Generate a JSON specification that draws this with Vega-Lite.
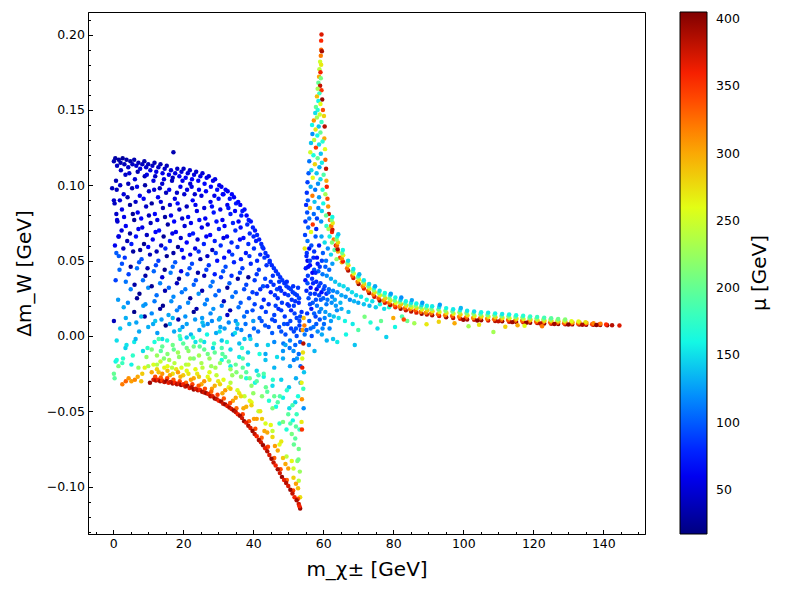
{
"$schema": "https://vega.github.io/schema/vega-lite/v6.json",
"autosize": {"type": "none"},
"padding": {"left": 88, "top": 12, "right": 155, "bottom": 66},
"width": 557,
"height": 522,
"data": {"values": [
{"m":0.2,"dm":0.116,"mu":38},{"m":0.6,"dm":0.118,"mu":32},{"m":1.1,"dm":0.113,"mu":44},{"m":1.6,"dm":0.117,"mu":30},{"m":2.1,"dm":0.115,"mu":36},{"m":2.7,"dm":0.118,"mu":28},{"m":3.2,"dm":0.114,"mu":40},{"m":3.8,"dm":0.117,"mu":34},{"m":4.3,"dm":0.112,"mu":46},{"m":4.9,"dm":0.116,"mu":33},{"m":5.5,"dm":0.114,"mu":42},{"m":6.0,"dm":0.117,"mu":36},{"m":6.6,"dm":0.113,"mu":48},{"m":7.2,"dm":0.115,"mu":39},{"m":7.7,"dm":0.111,"mu":52},{"m":8.3,"dm":0.114,"mu":41},{"m":8.9,"dm":0.116,"mu":35},{"m":9.4,"dm":0.112,"mu":47},{"m":10.0,"dm":0.114,"mu":40},{"m":10.6,"dm":0.110,"mu":54},{"m":11.2,"dm":0.113,"mu":43},{"m":11.8,"dm":0.115,"mu":37},{"m":12.3,"dm":0.109,"mu":56},{"m":12.9,"dm":0.112,"mu":45},{"m":13.5,"dm":0.114,"mu":38},{"m":14.1,"dm":0.108,"mu":58},{"m":14.7,"dm":0.111,"mu":47},{"m":15.3,"dm":0.113,"mu":40},{"m":15.9,"dm":0.107,"mu":60},{"m":16.5,"dm":0.110,"mu":49},{"m":17.2,"dm":0.122,"mu":36},{"m":17.7,"dm":0.108,"mu":55},{"m":18.3,"dm":0.111,"mu":44},{"m":18.9,"dm":0.106,"mu":61},{"m":19.5,"dm":0.109,"mu":50},{"m":20.1,"dm":0.111,"mu":42},{"m":20.7,"dm":0.105,"mu":63},{"m":21.3,"dm":0.108,"mu":52},{"m":21.9,"dm":0.110,"mu":46},{"m":22.5,"dm":0.104,"mu":64},{"m":23.1,"dm":0.107,"mu":54},{"m":23.7,"dm":0.109,"mu":48},{"m":24.3,"dm":0.103,"mu":66},{"m":24.9,"dm":0.106,"mu":56},{"m":25.5,"dm":0.108,"mu":50},{"m":26.1,"dm":0.101,"mu":67},{"m":26.7,"dm":0.105,"mu":58},{"m":27.3,"dm":0.106,"mu":52},{"m":27.9,"dm":0.099,"mu":68},{"m":28.5,"dm":0.103,"mu":60},{"m":29.1,"dm":0.104,"mu":55},{"m":29.7,"dm":0.097,"mu":70},{"m":30.3,"dm":0.100,"mu":62},{"m":30.9,"dm":0.099,"mu":57},{"m":31.5,"dm":0.094,"mu":71},{"m":32.1,"dm":0.097,"mu":64},{"m":32.7,"dm":0.096,"mu":60},{"m":33.3,"dm":0.091,"mu":72},{"m":33.9,"dm":0.094,"mu":66},{"m":34.5,"dm":0.092,"mu":62},{"m":35.1,"dm":0.088,"mu":74},{"m":35.7,"dm":0.089,"mu":68},{"m":36.3,"dm":0.087,"mu":64},{"m":36.9,"dm":0.083,"mu":75},{"m":37.5,"dm":0.084,"mu":70},{"m":38.1,"dm":0.080,"mu":66},{"m":38.7,"dm":0.077,"mu":76},{"m":39.3,"dm":0.076,"mu":72},{"m":39.9,"dm":0.072,"mu":78},{"m":40.5,"dm":0.070,"mu":74},{"m":41.1,"dm":0.067,"mu":80},{"m":41.7,"dm":0.064,"mu":76},{"m":42.3,"dm":0.061,"mu":81},{"m":42.9,"dm":0.058,"mu":78},{"m":43.5,"dm":0.055,"mu":83},{"m":44.1,"dm":0.053,"mu":79},{"m":44.7,"dm":0.050,"mu":84},{"m":45.3,"dm":0.047,"mu":81},{"m":45.9,"dm":0.045,"mu":85},{"m":46.5,"dm":0.043,"mu":82},{"m":47.1,"dm":0.041,"mu":86},{"m":47.7,"dm":0.039,"mu":83},{"m":48.3,"dm":0.037,"mu":87},{"m":48.9,"dm":0.035,"mu":84},{"m":49.5,"dm":0.033,"mu":88},{"m":50.1,"dm":0.032,"mu":85},{"m":50.7,"dm":0.031,"mu":89},{"m":51.3,"dm":0.029,"mu":86},{"m":51.9,"dm":0.028,"mu":90},{"m":52.5,"dm":0.027,"mu":87},{"m":53.1,"dm":0.025,"mu":91},
{"m":3.5,"dm":0.107,"mu":45},{"m":6.2,"dm":0.104,"mu":50},{"m":9.0,"dm":0.106,"mu":38},{"m":11.5,"dm":0.103,"mu":55},{"m":14.0,"dm":0.101,"mu":48},{"m":16.8,"dm":0.103,"mu":42},{"m":19.2,"dm":0.099,"mu":58},{"m":22.0,"dm":0.101,"mu":50},{"m":24.5,"dm":0.097,"mu":62},
{"m":-0.3,"dm":0.098,"mu":40},{"m":0.2,"dm":0.090,"mu":45},{"m":1.1,"dm":0.077,"mu":50},{"m":1.6,"dm":0.066,"mu":48},{"m":1.6,"dm":0.053,"mu":100},{"m":0.7,"dm":0.037,"mu":90},
{"m":1.0,"dm":0.097,"mu":40},{"m":3.0,"dm":0.094,"mu":52},{"m":5.4,"dm":0.098,"mu":35},{"m":7.6,"dm":0.093,"mu":58},{"m":10.2,"dm":0.096,"mu":45},{"m":12.8,"dm":0.092,"mu":62},{"m":15.1,"dm":0.095,"mu":40},{"m":17.6,"dm":0.091,"mu":55},{"m":20.3,"dm":0.094,"mu":48},{"m":22.7,"dm":0.090,"mu":65},{"m":25.2,"dm":0.093,"mu":52},{"m":27.8,"dm":0.089,"mu":60},{"m":30.1,"dm":0.091,"mu":70},{"m":32.6,"dm":0.087,"mu":58},
{"m":0.4,"dm":0.088,"mu":42},{"m":2.5,"dm":0.084,"mu":55},{"m":4.8,"dm":0.087,"mu":30},{"m":7.0,"dm":0.082,"mu":60},{"m":9.4,"dm":0.086,"mu":44},{"m":11.9,"dm":0.081,"mu":65},{"m":14.2,"dm":0.085,"mu":38},{"m":16.5,"dm":0.080,"mu":58},{"m":18.9,"dm":0.084,"mu":46},{"m":21.4,"dm":0.079,"mu":68},{"m":23.9,"dm":0.083,"mu":55},{"m":26.3,"dm":0.078,"mu":62},{"m":28.7,"dm":0.082,"mu":72},{"m":31.2,"dm":0.077,"mu":60},{"m":33.5,"dm":0.081,"mu":75},{"m":35.8,"dm":0.076,"mu":66},
{"m":1.2,"dm":0.076,"mu":48},{"m":3.6,"dm":0.073,"mu":62},{"m":6.0,"dm":0.077,"mu":28},{"m":8.3,"dm":0.072,"mu":56},{"m":10.7,"dm":0.075,"mu":40},{"m":13.1,"dm":0.070,"mu":70},{"m":15.6,"dm":0.074,"mu":32},{"m":17.9,"dm":0.069,"mu":62},{"m":20.4,"dm":0.073,"mu":50},{"m":22.8,"dm":0.068,"mu":74},{"m":25.3,"dm":0.072,"mu":58},{"m":27.7,"dm":0.067,"mu":66},{"m":30.2,"dm":0.071,"mu":78},{"m":32.5,"dm":0.066,"mu":62},{"m":34.9,"dm":0.070,"mu":80},{"m":37.2,"dm":0.065,"mu":70},{"m":39.0,"dm":0.068,"mu":82},
{"m":1.5,"dm":0.066,"mu":55},{"m":4.0,"dm":0.063,"mu":35},{"m":6.5,"dm":0.066,"mu":70},{"m":8.8,"dm":0.061,"mu":25},{"m":11.3,"dm":0.064,"mu":60},{"m":13.7,"dm":0.060,"mu":45},{"m":16.2,"dm":0.063,"mu":75},{"m":18.5,"dm":0.059,"mu":28},{"m":21.0,"dm":0.062,"mu":66},{"m":23.4,"dm":0.058,"mu":55},{"m":25.9,"dm":0.061,"mu":78},{"m":28.3,"dm":0.057,"mu":40},{"m":30.7,"dm":0.060,"mu":82},{"m":33.1,"dm":0.056,"mu":68},{"m":35.5,"dm":0.059,"mu":85},{"m":37.9,"dm":0.055,"mu":74},{"m":40.2,"dm":0.058,"mu":84},{"m":42.0,"dm":0.054,"mu":80},
{"m":0.9,"dm":0.055,"mu":100},{"m":3.3,"dm":0.052,"mu":85},{"m":5.7,"dm":0.056,"mu":30},{"m":8.1,"dm":0.051,"mu":95},{"m":10.5,"dm":0.054,"mu":42},{"m":12.9,"dm":0.050,"mu":88},{"m":15.3,"dm":0.053,"mu":26},{"m":17.7,"dm":0.049,"mu":98},{"m":20.1,"dm":0.052,"mu":60},{"m":22.5,"dm":0.048,"mu":92},{"m":24.9,"dm":0.051,"mu":35},{"m":27.3,"dm":0.047,"mu":86},{"m":29.7,"dm":0.050,"mu":70},{"m":32.1,"dm":0.046,"mu":94},{"m":34.5,"dm":0.049,"mu":78},{"m":36.9,"dm":0.045,"mu":88},{"m":39.3,"dm":0.048,"mu":80},{"m":41.6,"dm":0.044,"mu":86},{"m":43.8,"dm":0.047,"mu":84},
{"m":1.8,"dm":0.044,"mu":105},{"m":4.4,"dm":0.041,"mu":90},{"m":6.8,"dm":0.045,"mu":110},{"m":9.2,"dm":0.040,"mu":32},{"m":11.6,"dm":0.043,"mu":104},{"m":14.0,"dm":0.039,"mu":50},{"m":16.4,"dm":0.042,"mu":112},{"m":18.8,"dm":0.038,"mu":28},{"m":21.2,"dm":0.041,"mu":100},{"m":23.6,"dm":0.037,"mu":95},{"m":26.0,"dm":0.040,"mu":40},{"m":28.4,"dm":0.036,"mu":108},{"m":30.8,"dm":0.039,"mu":85},{"m":33.2,"dm":0.035,"mu":100},{"m":35.6,"dm":0.038,"mu":30},{"m":38.0,"dm":0.034,"mu":92},{"m":40.4,"dm":0.037,"mu":88},{"m":42.8,"dm":0.033,"mu":95},{"m":45.0,"dm":0.036,"mu":86},{"m":46.8,"dm":0.031,"mu":90},
{"m":5.0,"dm":0.031,"mu":115},{"m":7.5,"dm":0.028,"mu":25},{"m":10.0,"dm":0.032,"mu":120},{"m":12.4,"dm":0.027,"mu":108},{"m":14.8,"dm":0.030,"mu":35},{"m":17.2,"dm":0.026,"mu":118},{"m":19.6,"dm":0.029,"mu":110},{"m":22.0,"dm":0.025,"mu":30},{"m":24.4,"dm":0.028,"mu":122},{"m":26.8,"dm":0.024,"mu":112},{"m":29.2,"dm":0.027,"mu":105},{"m":31.6,"dm":0.023,"mu":40},{"m":34.0,"dm":0.026,"mu":110},{"m":36.4,"dm":0.022,"mu":100},{"m":38.8,"dm":0.025,"mu":92},{"m":41.0,"dm":0.028,"mu":85},{"m":43.0,"dm":0.024,"mu":80},{"m":45.0,"dm":0.029,"mu":75},{"m":47.0,"dm":0.025,"mu":82},{"m":49.0,"dm":0.028,"mu":78},{"m":51.0,"dm":0.024,"mu":85},{"m":53.0,"dm":0.022,"mu":80},
{"m":3.0,"dm":0.019,"mu":130},{"m":6.0,"dm":0.016,"mu":22},{"m":8.6,"dm":0.020,"mu":125},{"m":11.0,"dm":0.015,"mu":118},{"m":13.4,"dm":0.018,"mu":30},{"m":15.8,"dm":0.014,"mu":128},{"m":18.2,"dm":0.017,"mu":115},{"m":20.6,"dm":0.013,"mu":122},{"m":23.0,"dm":0.016,"mu":26},{"m":25.4,"dm":0.012,"mu":125},{"m":27.8,"dm":0.015,"mu":118},{"m":30.2,"dm":0.011,"mu":128},{"m":32.6,"dm":0.014,"mu":45},{"m":35.0,"dm":0.010,"mu":120},{"m":37.4,"dm":0.013,"mu":108},{"m":39.8,"dm":0.017,"mu":95},{"m":41.8,"dm":0.012,"mu":100},{"m":43.6,"dm":0.016,"mu":88},{"m":45.4,"dm":0.011,"mu":92},{"m":47.2,"dm":0.018,"mu":80},{"m":49.0,"dm":0.013,"mu":86},{"m":50.8,"dm":0.017,"mu":78},{"m":52.4,"dm":0.012,"mu":90},{"m":53.8,"dm":0.016,"mu":84},
{"m":0.2,"dm":0.010,"mu":40},{"m":2.0,"dm":0.005,"mu":140},{"m":4.6,"dm":0.008,"mu":135},{"m":7.4,"dm":0.003,"mu":130},{"m":10.0,"dm":0.006,"mu":132},{"m":12.6,"dm":0.002,"mu":125},{"m":15.0,"dm":0.007,"mu":20},{"m":17.4,"dm":0.003,"mu":130},{"m":19.8,"dm":0.006,"mu":122},{"m":22.2,"dm":0.001,"mu":135},{"m":24.6,"dm":0.004,"mu":128},{"m":27.0,"dm":0.008,"mu":120},{"m":29.4,"dm":0.002,"mu":130},{"m":31.8,"dm":0.005,"mu":125},{"m":34.2,"dm":0.001,"mu":118},{"m":36.6,"dm":0.004,"mu":115},{"m":39.0,"dm":0.000,"mu":112},{"m":41.4,"dm":0.003,"mu":105},{"m":43.4,"dm":0.007,"mu":98},{"m":45.4,"dm":0.002,"mu":100},{"m":47.4,"dm":0.006,"mu":92},{"m":49.2,"dm":0.001,"mu":95},{"m":50.8,"dm":0.005,"mu":88},{"m":52.4,"dm":0.000,"mu":94},{"m":53.6,"dm":0.004,"mu":90},
{"m":45.8,"dm":0.034,"mu":84},{"m":46.4,"dm":0.020,"mu":90},{"m":47.6,"dm":0.032,"mu":80},{"m":48.2,"dm":0.022,"mu":88},{"m":48.8,"dm":0.008,"mu":96},{"m":49.6,"dm":0.036,"mu":82},{"m":50.2,"dm":0.020,"mu":86},{"m":50.6,"dm":0.010,"mu":92},{"m":51.4,"dm":0.033,"mu":84},{"m":51.8,"dm":0.015,"mu":90},{"m":52.2,"dm":0.005,"mu":96},{"m":52.8,"dm":0.032,"mu":86},{"m":53.2,"dm":0.010,"mu":92},{"m":53.4,"dm":-0.004,"mu":100},{"m":52.0,"dm":-0.006,"mu":104},{"m":50.4,"dm":-0.008,"mu":108},{"m":48.6,"dm":-0.005,"mu":110},{"m":53.0,"dm":-0.012,"mu":106},{"m":51.6,"dm":-0.016,"mu":112},{"m":53.5,"dm":-0.020,"mu":104},
{"m":2.2,"dm":0.110,"mu":42},{"m":4.6,"dm":0.108,"mu":50},{"m":7.0,"dm":0.109,"mu":36},{"m":9.6,"dm":0.107,"mu":55},{"m":12.0,"dm":0.106,"mu":45},{"m":14.5,"dm":0.104,"mu":52},{"m":17.0,"dm":0.105,"mu":40},{"m":19.8,"dm":0.103,"mu":60},{"m":22.4,"dm":0.099,"mu":55},
{"m":0.8,"dm":0.103,"mu":38},{"m":2.0,"dm":0.100,"mu":46},{"m":4.3,"dm":0.101,"mu":40},{"m":6.8,"dm":0.099,"mu":58},{"m":9.1,"dm":0.100,"mu":32},{"m":11.7,"dm":0.097,"mu":50},{"m":13.3,"dm":0.098,"mu":42},{"m":16.0,"dm":0.097,"mu":62},{"m":18.2,"dm":0.095,"mu":45},{"m":21.1,"dm":0.097,"mu":55},{"m":23.3,"dm":0.094,"mu":48},{"m":26.5,"dm":0.096,"mu":64},{"m":28.9,"dm":0.093,"mu":58},{"m":31.3,"dm":0.094,"mu":66},
{"m":1.9,"dm":0.090,"mu":50},{"m":4.1,"dm":0.092,"mu":36},{"m":6.4,"dm":0.089,"mu":44},{"m":8.7,"dm":0.091,"mu":62},{"m":11.0,"dm":0.088,"mu":30},{"m":13.6,"dm":0.089,"mu":54},{"m":16.2,"dm":0.087,"mu":48},{"m":18.4,"dm":0.088,"mu":68},{"m":21.0,"dm":0.086,"mu":40},{"m":23.5,"dm":0.087,"mu":60},{"m":26.0,"dm":0.085,"mu":52},{"m":28.2,"dm":0.086,"mu":70},{"m":30.6,"dm":0.084,"mu":58},{"m":32.9,"dm":0.085,"mu":74},{"m":34.8,"dm":0.083,"mu":64},{"m":36.6,"dm":0.080,"mu":76},
{"m":0.9,"dm":0.081,"mu":45},{"m":3.1,"dm":0.079,"mu":58},{"m":5.6,"dm":0.081,"mu":26},{"m":8.0,"dm":0.078,"mu":64},{"m":10.2,"dm":0.080,"mu":40},{"m":12.6,"dm":0.077,"mu":55},{"m":14.8,"dm":0.079,"mu":30},{"m":17.4,"dm":0.076,"mu":66},{"m":19.7,"dm":0.078,"mu":48},{"m":22.2,"dm":0.075,"mu":60},{"m":24.6,"dm":0.077,"mu":70},{"m":27.0,"dm":0.074,"mu":56},{"m":29.5,"dm":0.076,"mu":72},{"m":31.8,"dm":0.073,"mu":64},{"m":34.2,"dm":0.075,"mu":78},{"m":36.4,"dm":0.072,"mu":70},{"m":38.3,"dm":0.074,"mu":80},{"m":40.1,"dm":0.066,"mu":80},
{"m":2.4,"dm":0.070,"mu":52},{"m":4.8,"dm":0.068,"mu":30},{"m":7.2,"dm":0.071,"mu":60},{"m":9.6,"dm":0.067,"mu":42},{"m":12.1,"dm":0.069,"mu":66},{"m":14.4,"dm":0.066,"mu":28},{"m":16.9,"dm":0.068,"mu":58},{"m":19.3,"dm":0.065,"mu":46},{"m":21.8,"dm":0.067,"mu":72},{"m":24.1,"dm":0.064,"mu":50},{"m":26.6,"dm":0.066,"mu":62},{"m":29.0,"dm":0.063,"mu":76},{"m":31.5,"dm":0.065,"mu":56},{"m":33.8,"dm":0.062,"mu":80},{"m":36.2,"dm":0.064,"mu":68},{"m":38.6,"dm":0.061,"mu":82},{"m":40.8,"dm":0.063,"mu":76},{"m":42.6,"dm":0.059,"mu":84},
{"m":0.5,"dm":0.060,"mu":60},{"m":2.9,"dm":0.058,"mu":42},{"m":5.2,"dm":0.061,"mu":75},{"m":7.7,"dm":0.057,"mu":28},{"m":10.0,"dm":0.059,"mu":64},{"m":12.4,"dm":0.056,"mu":38},{"m":14.9,"dm":0.058,"mu":80},{"m":17.2,"dm":0.055,"mu":32},{"m":19.6,"dm":0.057,"mu":70},{"m":22.0,"dm":0.054,"mu":58},{"m":24.4,"dm":0.056,"mu":84},{"m":26.9,"dm":0.053,"mu":44},{"m":29.3,"dm":0.055,"mu":86},{"m":31.7,"dm":0.052,"mu":70},{"m":34.0,"dm":0.054,"mu":88},{"m":36.5,"dm":0.051,"mu":76},{"m":38.9,"dm":0.053,"mu":84},{"m":41.1,"dm":0.050,"mu":80},{"m":43.2,"dm":0.052,"mu":86},{"m":44.7,"dm":0.049,"mu":82},
{"m":2.5,"dm":0.048,"mu":95},{"m":5.0,"dm":0.046,"mu":28},{"m":7.4,"dm":0.049,"mu":100},{"m":9.8,"dm":0.045,"mu":36},{"m":12.2,"dm":0.047,"mu":92},{"m":14.7,"dm":0.044,"mu":24},{"m":17.0,"dm":0.046,"mu":105},{"m":19.4,"dm":0.043,"mu":55},{"m":21.8,"dm":0.045,"mu":96},{"m":24.2,"dm":0.042,"mu":32},{"m":26.6,"dm":0.044,"mu":90},{"m":29.0,"dm":0.041,"mu":75},{"m":31.4,"dm":0.043,"mu":98},{"m":33.8,"dm":0.040,"mu":82},{"m":36.2,"dm":0.042,"mu":90},{"m":38.6,"dm":0.039,"mu":28},{"m":41.0,"dm":0.041,"mu":86},{"m":43.4,"dm":0.038,"mu":90},{"m":45.6,"dm":0.040,"mu":84},{"m":47.4,"dm":0.036,"mu":88},
{"m":3.6,"dm":0.036,"mu":110},{"m":6.1,"dm":0.034,"mu":32},{"m":8.5,"dm":0.037,"mu":108},{"m":11.0,"dm":0.033,"mu":26},{"m":13.4,"dm":0.035,"mu":115},{"m":15.9,"dm":0.032,"mu":104},{"m":18.2,"dm":0.035,"mu":40},{"m":20.6,"dm":0.031,"mu":112},{"m":23.0,"dm":0.034,"mu":102},{"m":25.4,"dm":0.030,"mu":36},{"m":27.8,"dm":0.033,"mu":110},{"m":30.2,"dm":0.030,"mu":98},{"m":32.6,"dm":0.032,"mu":30},{"m":35.0,"dm":0.029,"mu":104},{"m":37.4,"dm":0.031,"mu":94},{"m":39.8,"dm":0.029,"mu":88},{"m":42.0,"dm":0.031,"mu":82},{"m":44.0,"dm":0.033,"mu":80},{"m":46.2,"dm":0.027,"mu":86},{"m":48.0,"dm":0.030,"mu":84},{"m":50.0,"dm":0.027,"mu":88},{"m":52.0,"dm":0.023,"mu":84},
{"m":1.4,"dm":0.024,"mu":125},{"m":4.2,"dm":0.022,"mu":118},{"m":6.8,"dm":0.025,"mu":28},{"m":9.2,"dm":0.021,"mu":122},{"m":11.8,"dm":0.023,"mu":112},{"m":14.2,"dm":0.020,"mu":24},{"m":16.6,"dm":0.023,"mu":120},{"m":19.0,"dm":0.019,"mu":110},{"m":21.4,"dm":0.022,"mu":118},{"m":23.8,"dm":0.018,"mu":34},{"m":26.2,"dm":0.021,"mu":115},{"m":28.6,"dm":0.018,"mu":122},{"m":31.0,"dm":0.020,"mu":110},{"m":33.4,"dm":0.017,"mu":38},{"m":35.8,"dm":0.019,"mu":108},{"m":38.2,"dm":0.016,"mu":98},{"m":40.4,"dm":0.021,"mu":90},{"m":42.4,"dm":0.019,"mu":86},{"m":44.4,"dm":0.021,"mu":82},{"m":46.0,"dm":0.014,"mu":90},{"m":48.0,"dm":0.017,"mu":86},{"m":49.8,"dm":0.021,"mu":82},{"m":51.6,"dm":0.020,"mu":88},{"m":53.4,"dm":0.013,"mu":92},
{"m":3.6,"dm":0.012,"mu":132},{"m":6.6,"dm":0.009,"mu":128},{"m":9.0,"dm":0.013,"mu":28},{"m":11.4,"dm":0.008,"mu":130},{"m":13.8,"dm":0.011,"mu":124},{"m":16.2,"dm":0.008,"mu":132},{"m":18.6,"dm":0.011,"mu":36},{"m":21.0,"dm":0.008,"mu":128},{"m":23.4,"dm":0.011,"mu":124},{"m":25.8,"dm":0.007,"mu":130},{"m":28.2,"dm":0.010,"mu":118},{"m":30.6,"dm":0.006,"mu":126},{"m":33.0,"dm":0.009,"mu":116},{"m":35.4,"dm":0.005,"mu":120},{"m":37.8,"dm":0.008,"mu":108},{"m":40.2,"dm":0.005,"mu":104},{"m":42.4,"dm":0.010,"mu":96},{"m":44.4,"dm":0.006,"mu":94},{"m":46.2,"dm":0.010,"mu":90},{"m":48.0,"dm":0.003,"mu":96},{"m":49.8,"dm":0.008,"mu":90},{"m":51.6,"dm":0.003,"mu":92},{"m":53.2,"dm":0.007,"mu":88},
{"m":1.0,"dm":-0.003,"mu":150},{"m":3.5,"dm":-0.008,"mu":145},{"m":6.0,"dm":-0.004,"mu":155},{"m":8.5,"dm":-0.010,"mu":148},{"m":26.0,"dm":-0.004,"mu":150},{"m":28.5,"dm":-0.008,"mu":145},{"m":31.0,"dm":-0.003,"mu":140},{"m":33.5,"dm":-0.009,"mu":148},{"m":36.0,"dm":-0.005,"mu":138},{"m":38.5,"dm":-0.011,"mu":142},{"m":41.0,"dm":-0.006,"mu":132},{"m":43.5,"dm":-0.012,"mu":130},{"m":46.0,"dm":-0.004,"mu":118},{"m":48.5,"dm":-0.010,"mu":122},{"m":50.5,"dm":-0.003,"mu":115},
{"m":0.7,"dm":-0.017,"mu":160},{"m":2.8,"dm":-0.015,"mu":172},{"m":5.2,"dm":-0.019,"mu":158},{"m":31.0,"dm":-0.016,"mu":165},{"m":33.5,"dm":-0.020,"mu":158},{"m":36.0,"dm":-0.014,"mu":155},{"m":38.5,"dm":-0.019,"mu":150},{"m":41.0,"dm":-0.023,"mu":148},{"m":43.5,"dm":-0.016,"mu":140},{"m":46.0,"dm":-0.021,"mu":135},{"m":48.5,"dm":-0.015,"mu":130},{"m":50.5,"dm":-0.020,"mu":125},{"m":52.5,"dm":-0.015,"mu":122},
{"m":38.0,"dm":-0.028,"mu":168},{"m":40.5,"dm":-0.031,"mu":160},{"m":43.0,"dm":-0.027,"mu":158},{"m":45.5,"dm":-0.033,"mu":150},{"m":48.0,"dm":-0.029,"mu":145},{"m":50.2,"dm":-0.034,"mu":140},{"m":52.2,"dm":-0.028,"mu":132},{"m":53.5,"dm":-0.031,"mu":128},
{"m":44.5,"dm":-0.043,"mu":170},{"m":46.5,"dm":-0.047,"mu":162},{"m":48.5,"dm":-0.041,"mu":158},{"m":50.3,"dm":-0.048,"mu":150},{"m":52.0,"dm":-0.044,"mu":145},{"m":47.5,"dm":-0.058,"mu":175},{"m":49.5,"dm":-0.062,"mu":168},{"m":51.3,"dm":-0.056,"mu":160},
{"m":12.0,"dm":0.010,"mu":140},{"m":17.0,"dm":0.012,"mu":135},{"m":21.0,"dm":-0.001,"mu":145},{"m":25.5,"dm":0.009,"mu":138},{"m":30.5,"dm":0.012,"mu":133},{"m":35.5,"dm":0.008,"mu":140},{"m":14.0,"dm":-0.002,"mu":150},{"m":19.0,"dm":0.004,"mu":142},{"m":23.5,"dm":-0.004,"mu":152},{"m":8.0,"dm":0.013,"mu":138},{"m":37.5,"dm":-0.002,"mu":140},{"m":40.0,"dm":0.010,"mu":125},
{"m":11.8,"dm":-0.004,"mu":165},{"m":13.6,"dm":-0.010,"mu":195},{"m":15.4,"dm":-0.003,"mu":170},{"m":17.3,"dm":-0.009,"mu":200},{"m":19.2,"dm":-0.002,"mu":165},{"m":21.0,"dm":-0.008,"mu":205},{"m":22.8,"dm":-0.001,"mu":170},{"m":24.7,"dm":-0.007,"mu":195},{"m":26.8,"dm":0.001,"mu":160},{"m":28.8,"dm":-0.005,"mu":180},{"m":30.4,"dm":0.003,"mu":150},{"m":32.5,"dm":-0.004,"mu":170},{"m":34.8,"dm":0.002,"mu":150},{"m":36.8,"dm":-0.008,"mu":175},{"m":39.2,"dm":-0.002,"mu":150},{"m":41.8,"dm":-0.012,"mu":165},{"m":44.2,"dm":-0.006,"mu":145},{"m":46.8,"dm":-0.014,"mu":150},{"m":49.2,"dm":-0.006,"mu":130},{"m":51.5,"dm":-0.010,"mu":120},
{"m":9.5,"dm":-0.014,"mu":220},{"m":11.0,"dm":-0.009,"mu":210},{"m":12.5,"dm":-0.013,"mu":225},{"m":14.0,"dm":-0.007,"mu":200},{"m":15.5,"dm":-0.012,"mu":215},{"m":17.0,"dm":-0.006,"mu":205},{"m":18.5,"dm":-0.011,"mu":228},{"m":20.0,"dm":-0.005,"mu":195},{"m":21.5,"dm":-0.010,"mu":220},{"m":23.0,"dm":-0.007,"mu":205},{"m":24.5,"dm":-0.013,"mu":230},{"m":26.0,"dm":-0.009,"mu":200},{"m":27.5,"dm":-0.015,"mu":225},{"m":29.0,"dm":-0.011,"mu":198},{"m":30.5,"dm":-0.018,"mu":222},{"m":32.0,"dm":-0.014,"mu":195},{"m":33.5,"dm":-0.022,"mu":225},{"m":35.0,"dm":-0.019,"mu":200},{"m":36.5,"dm":-0.027,"mu":220},{"m":38.0,"dm":-0.024,"mu":195},{"m":39.5,"dm":-0.033,"mu":218},{"m":41.0,"dm":-0.030,"mu":192},{"m":42.5,"dm":-0.040,"mu":215},{"m":44.0,"dm":-0.037,"mu":195},{"m":45.5,"dm":-0.048,"mu":212},{"m":47.0,"dm":-0.044,"mu":190},{"m":48.5,"dm":-0.057,"mu":210},{"m":50.0,"dm":-0.052,"mu":195},{"m":51.0,"dm":-0.065,"mu":208},{"m":52.2,"dm":-0.060,"mu":195},{"m":53.0,"dm":-0.075,"mu":205},{"m":52.6,"dm":-0.083,"mu":215},{"m":53.3,"dm":-0.090,"mu":225},{"m":51.6,"dm":-0.072,"mu":200},
{"m":10.0,"dm":-0.020,"mu":230},{"m":13.0,"dm":-0.002,"mu":190},{"m":16.0,"dm":-0.016,"mu":232},{"m":19.0,"dm":0.000,"mu":185},{"m":22.0,"dm":-0.015,"mu":228},{"m":25.0,"dm":-0.003,"mu":190},{"m":28.0,"dm":-0.020,"mu":226},{"m":31.0,"dm":-0.008,"mu":188},{"m":34.0,"dm":-0.026,"mu":224},{"m":37.0,"dm":-0.015,"mu":190},{"m":40.0,"dm":-0.038,"mu":222},{"m":43.0,"dm":-0.025,"mu":188},{"m":46.0,"dm":-0.040,"mu":200},
{"m":12.5,"dm":-0.019,"mu":235},{"m":14.5,"dm":-0.015,"mu":215},{"m":16.8,"dm":-0.021,"mu":240},{"m":18.8,"dm":-0.014,"mu":220},{"m":20.8,"dm":-0.019,"mu":236},{"m":23.0,"dm":-0.015,"mu":215},{"m":25.2,"dm":-0.018,"mu":232},{"m":27.0,"dm":-0.012,"mu":205},{"m":29.2,"dm":-0.021,"mu":230},{"m":31.2,"dm":-0.012,"mu":195},{"m":33.0,"dm":-0.017,"mu":200},{"m":35.2,"dm":-0.024,"mu":215},{"m":37.0,"dm":-0.021,"mu":195},{"m":39.0,"dm":-0.028,"mu":205},{"m":41.5,"dm":-0.026,"mu":185},{"m":43.6,"dm":-0.034,"mu":200},{"m":45.6,"dm":-0.029,"mu":175},{"m":47.6,"dm":-0.040,"mu":190},{"m":49.6,"dm":-0.036,"mu":172},{"m":51.2,"dm":-0.046,"mu":185},{"m":52.8,"dm":-0.040,"mu":165},{"m":50.6,"dm":-0.058,"mu":190},{"m":52.4,"dm":-0.052,"mu":180},{"m":52.0,"dm":-0.068,"mu":195},{"m":53.2,"dm":-0.062,"mu":178},{"m":52.9,"dm":-0.082,"mu":205},
{"m":11.5,"dm":-0.019,"mu":255},{"m":13.5,"dm":-0.017,"mu":245},{"m":15.5,"dm":-0.020,"mu":260},{"m":17.5,"dm":-0.018,"mu":240},{"m":19.5,"dm":-0.021,"mu":255},{"m":21.5,"dm":-0.019,"mu":248},{"m":23.5,"dm":-0.022,"mu":262},{"m":25.5,"dm":-0.021,"mu":242},{"m":27.5,"dm":-0.024,"mu":258},{"m":29.5,"dm":-0.026,"mu":245},{"m":31.5,"dm":-0.029,"mu":260},{"m":33.5,"dm":-0.031,"mu":240},{"m":35.5,"dm":-0.036,"mu":255},{"m":37.5,"dm":-0.040,"mu":245},{"m":39.5,"dm":-0.044,"mu":260},{"m":41.5,"dm":-0.050,"mu":242},{"m":43.5,"dm":-0.058,"mu":255},{"m":45.5,"dm":-0.063,"mu":245},{"m":47.5,"dm":-0.072,"mu":258},{"m":49.5,"dm":-0.080,"mu":242},{"m":51.5,"dm":-0.088,"mu":250},{"m":53.0,"dm":-0.096,"mu":240},
{"m":14.6,"dm":-0.021,"mu":265},{"m":18.0,"dm":-0.022,"mu":272},{"m":21.0,"dm":-0.023,"mu":262},{"m":24.0,"dm":-0.025,"mu":270},{"m":27.0,"dm":-0.027,"mu":262},{"m":30.0,"dm":-0.030,"mu":270},{"m":33.0,"dm":-0.034,"mu":262},{"m":36.0,"dm":-0.038,"mu":270},{"m":39.0,"dm":-0.043,"mu":262},{"m":42.0,"dm":-0.050,"mu":270},{"m":45.0,"dm":-0.059,"mu":262},{"m":48.0,"dm":-0.070,"mu":270},{"m":51.0,"dm":-0.083,"mu":262},
{"m":11.0,"dm":-0.024,"mu":300},{"m":12.5,"dm":-0.022,"mu":280},{"m":14.0,"dm":-0.025,"mu":310},{"m":15.5,"dm":-0.023,"mu":290},{"m":17.0,"dm":-0.025,"mu":275},{"m":18.5,"dm":-0.024,"mu":305},{"m":20.0,"dm":-0.026,"mu":285},{"m":21.5,"dm":-0.025,"mu":270},{"m":23.0,"dm":-0.028,"mu":300},{"m":24.5,"dm":-0.027,"mu":285},{"m":26.0,"dm":-0.030,"mu":310},{"m":27.5,"dm":-0.029,"mu":275},{"m":29.0,"dm":-0.033,"mu":295},{"m":30.5,"dm":-0.032,"mu":280},{"m":32.0,"dm":-0.036,"mu":305},{"m":33.5,"dm":-0.035,"mu":285},{"m":35.0,"dm":-0.041,"mu":300},{"m":36.5,"dm":-0.040,"mu":275},{"m":38.0,"dm":-0.047,"mu":295},{"m":39.5,"dm":-0.046,"mu":280},{"m":41.0,"dm":-0.055,"mu":305},{"m":42.5,"dm":-0.055,"mu":285},{"m":44.0,"dm":-0.064,"mu":300},{"m":45.5,"dm":-0.067,"mu":278},{"m":47.0,"dm":-0.076,"mu":300},{"m":48.5,"dm":-0.081,"mu":285},{"m":50.0,"dm":-0.088,"mu":305},{"m":51.5,"dm":-0.094,"mu":280},{"m":52.8,"dm":-0.101,"mu":290},{"m":53.4,"dm":-0.107,"mu":275},
{"m":13.0,"dm":-0.024,"mu":290},{"m":16.2,"dm":-0.026,"mu":300},{"m":19.2,"dm":-0.027,"mu":295},{"m":22.2,"dm":-0.029,"mu":305},{"m":25.2,"dm":-0.032,"mu":300},{"m":28.2,"dm":-0.035,"mu":305},{"m":31.2,"dm":-0.038,"mu":300},{"m":34.2,"dm":-0.043,"mu":305},{"m":37.2,"dm":-0.048,"mu":298},{"m":40.2,"dm":-0.055,"mu":305},{"m":43.2,"dm":-0.063,"mu":300},{"m":46.2,"dm":-0.073,"mu":305},{"m":49.2,"dm":-0.085,"mu":300},{"m":52.2,"dm":-0.098,"mu":305},
{"m":12.0,"dm":-0.027,"mu":340},{"m":13.6,"dm":-0.0275,"mu":330},{"m":15.4,"dm":-0.028,"mu":345},{"m":17.2,"dm":-0.029,"mu":335},{"m":19.0,"dm":-0.030,"mu":340},{"m":20.8,"dm":-0.031,"mu":330},{"m":22.6,"dm":-0.032,"mu":345},{"m":24.4,"dm":-0.033,"mu":335},{"m":26.2,"dm":-0.035,"mu":340},{"m":28.0,"dm":-0.037,"mu":330},{"m":29.8,"dm":-0.039,"mu":345},{"m":31.6,"dm":-0.0415,"mu":335},{"m":33.4,"dm":-0.0445,"mu":340},{"m":35.2,"dm":-0.048,"mu":330},{"m":37.0,"dm":-0.052,"mu":345},{"m":38.8,"dm":-0.0565,"mu":335},{"m":40.6,"dm":-0.0615,"mu":340},{"m":42.4,"dm":-0.0675,"mu":330},{"m":44.2,"dm":-0.0735,"mu":345},{"m":46.0,"dm":-0.081,"mu":335},{"m":47.8,"dm":-0.0885,"mu":340},{"m":49.6,"dm":-0.0955,"mu":330},{"m":51.4,"dm":-0.1025,"mu":345},{"m":52.8,"dm":-0.108,"mu":335},
{"m":11.5,"dm":-0.029,"mu":370},{"m":12.2,"dm":-0.0295,"mu":385},{"m":12.8,"dm":-0.029,"mu":360},{"m":13.4,"dm":-0.030,"mu":390},{"m":14.0,"dm":-0.0295,"mu":350},{"m":14.6,"dm":-0.0305,"mu":380},{"m":15.2,"dm":-0.030,"mu":395},{"m":15.8,"dm":-0.031,"mu":365},{"m":16.4,"dm":-0.0305,"mu":375},{"m":17.0,"dm":-0.0315,"mu":390},{"m":17.6,"dm":-0.031,"mu":355},{"m":18.2,"dm":-0.032,"mu":385},{"m":18.8,"dm":-0.0315,"mu":370},{"m":19.4,"dm":-0.0325,"mu":395},{"m":20.0,"dm":-0.032,"mu":360},{"m":20.6,"dm":-0.0335,"mu":380},{"m":21.2,"dm":-0.033,"mu":390},{"m":21.8,"dm":-0.0345,"mu":365},{"m":22.4,"dm":-0.034,"mu":385},{"m":23.0,"dm":-0.0355,"mu":395},{"m":23.6,"dm":-0.035,"mu":370},{"m":24.2,"dm":-0.036,"mu":380},{"m":24.8,"dm":-0.0358,"mu":360},{"m":25.4,"dm":-0.037,"mu":390},{"m":26.0,"dm":-0.0375,"mu":375},{"m":26.6,"dm":-0.038,"mu":395},{"m":27.2,"dm":-0.0385,"mu":365},{"m":27.8,"dm":-0.040,"mu":385},{"m":28.4,"dm":-0.040,"mu":370},{"m":29.0,"dm":-0.0415,"mu":395},{"m":29.6,"dm":-0.042,"mu":380},{"m":30.2,"dm":-0.043,"mu":360},{"m":30.8,"dm":-0.0435,"mu":390},{"m":31.4,"dm":-0.045,"mu":375},{"m":32.0,"dm":-0.0455,"mu":395},{"m":32.6,"dm":-0.0465,"mu":365},{"m":33.2,"dm":-0.0475,"mu":385},{"m":33.8,"dm":-0.0485,"mu":370},{"m":34.4,"dm":-0.0495,"mu":395},{"m":35.0,"dm":-0.0505,"mu":380},{"m":35.6,"dm":-0.052,"mu":360},{"m":36.2,"dm":-0.053,"mu":390},{"m":36.8,"dm":-0.0545,"mu":375},{"m":37.4,"dm":-0.0565,"mu":395},{"m":38.0,"dm":-0.0575,"mu":365},{"m":38.6,"dm":-0.0595,"mu":385},{"m":39.2,"dm":-0.061,"mu":370},{"m":39.8,"dm":-0.063,"mu":395},{"m":40.4,"dm":-0.065,"mu":380},{"m":41.0,"dm":-0.0665,"mu":360},{"m":41.6,"dm":-0.069,"mu":390},{"m":42.2,"dm":-0.0705,"mu":375},{"m":42.8,"dm":-0.0725,"mu":395},{"m":43.4,"dm":-0.0745,"mu":365},{"m":44.0,"dm":-0.0765,"mu":385},{"m":44.6,"dm":-0.079,"mu":370},{"m":45.2,"dm":-0.0815,"mu":395},{"m":45.8,"dm":-0.084,"mu":380},{"m":46.4,"dm":-0.086,"mu":360},{"m":47.0,"dm":-0.0885,"mu":390},{"m":47.6,"dm":-0.091,"mu":375},{"m":48.2,"dm":-0.0935,"mu":395},{"m":48.8,"dm":-0.0955,"mu":365},{"m":49.4,"dm":-0.0975,"mu":385},{"m":50.0,"dm":-0.0995,"mu":370},{"m":50.6,"dm":-0.102,"mu":395},{"m":51.2,"dm":-0.1045,"mu":380},{"m":51.8,"dm":-0.107,"mu":360},{"m":52.4,"dm":-0.109,"mu":390},{"m":53.0,"dm":-0.1115,"mu":375},{"m":53.4,"dm":-0.1145,"mu":395},{"m":53.2,"dm":-0.113,"mu":360},
{"m":0.2,"dm":-0.025,"mu":200},{"m":0.4,"dm":-0.028,"mu":195},{"m":1.5,"dm":-0.020,"mu":210},{"m":2.6,"dm":-0.032,"mu":320},{"m":3.6,"dm":-0.030,"mu":330},{"m":4.4,"dm":-0.028,"mu":310},{"m":5.2,"dm":-0.030,"mu":305},{"m":6.2,"dm":-0.029,"mu":315},{"m":7.0,"dm":-0.027,"mu":300},{"m":8.0,"dm":-0.030,"mu":290},{"m":8.3,"dm":-0.025,"mu":285},{"m":9.0,"dm":-0.021,"mu":265},{"m":10.5,"dm":-0.031,"mu":395},{"m":1.0,"dm":-0.016,"mu":165},{"m":2.6,"dm":-0.018,"mu":180},{"m":3.8,"dm":-0.006,"mu":152},{"m":5.6,"dm":-0.013,"mu":175},{"m":7.2,"dm":-0.021,"mu":225},{"m":6.4,"dm":-0.002,"mu":135},{"m":9.8,"dm":-0.008,"mu":175},
{"m":54.6,"dm":0.007,"mu":320},{"m":54.1,"dm":0.004,"mu":305},{"m":54.3,"dm":-0.005,"mu":385},{"m":54.2,"dm":-0.011,"mu":275},{"m":54.0,"dm":-0.021,"mu":365},{"m":53.8,"dm":-0.031,"mu":265},{"m":53.9,"dm":-0.042,"mu":310},{"m":54.4,"dm":-0.048,"mu":120},{"m":53.8,"dm":-0.057,"mu":270},{"m":53.9,"dm":-0.062,"mu":350},{"m":54.5,"dm":-0.024,"mu":140},{"m":54.3,"dm":-0.035,"mu":180},{"m":54.0,"dm":-0.015,"mu":255},{"m":54.7,"dm":0.001,"mu":110},{"m":54.4,"dm":0.012,"mu":290},
{"m":55.0,"dm":0.045,"mu":75},{"m":55.6,"dm":0.040,"mu":90},{"m":56.2,"dm":0.047,"mu":70},{"m":56.8,"dm":0.038,"mu":85},{"m":57.4,"dm":0.044,"mu":95},{"m":58.0,"dm":0.036,"mu":80},{"m":58.6,"dm":0.043,"mu":100},{"m":59.2,"dm":0.035,"mu":88},{"m":59.8,"dm":0.041,"mu":110},{"m":60.4,"dm":0.033,"mu":95},{"m":61.0,"dm":0.040,"mu":120},{"m":61.6,"dm":0.031,"mu":105},{"m":62.2,"dm":0.038,"mu":130},{"m":62.8,"dm":0.030,"mu":115},{"m":63.4,"dm":0.036,"mu":140},{"m":64.0,"dm":0.029,"mu":120},{"m":64.6,"dm":0.034,"mu":145},{"m":65.2,"dm":0.027,"mu":130},{"m":65.8,"dm":0.033,"mu":150},{"m":66.4,"dm":0.026,"mu":125},{"m":67.0,"dm":0.031,"mu":140},{"m":67.6,"dm":0.024,"mu":120},{"m":68.2,"dm":0.029,"mu":150},{"m":68.8,"dm":0.023,"mu":135},{"m":69.4,"dm":0.027,"mu":145},{"m":70.0,"dm":0.022,"mu":130},{"m":70.8,"dm":0.026,"mu":150},{"m":71.6,"dm":0.021,"mu":140},{"m":72.4,"dm":0.024,"mu":160},{"m":73.2,"dm":0.020,"mu":135},{"m":74.0,"dm":0.023,"mu":150},{"m":75.0,"dm":0.019,"mu":145},{"m":76.2,"dm":0.021,"mu":160},{"m":77.4,"dm":0.018,"mu":150},{"m":78.8,"dm":0.019,"mu":170},
{"m":55.2,"dm":0.030,"mu":80},{"m":55.8,"dm":0.025,"mu":95},{"m":56.4,"dm":0.032,"mu":70},{"m":57.0,"dm":0.022,"mu":100},{"m":57.6,"dm":0.028,"mu":85},{"m":58.2,"dm":0.020,"mu":110},{"m":58.8,"dm":0.027,"mu":90},{"m":59.4,"dm":0.018,"mu":120},{"m":60.0,"dm":0.025,"mu":100},{"m":60.6,"dm":0.016,"mu":125},{"m":61.2,"dm":0.024,"mu":110},{"m":61.8,"dm":0.014,"mu":130},{"m":62.4,"dm":0.022,"mu":120},{"m":63.0,"dm":0.013,"mu":140},{"m":63.6,"dm":0.020,"mu":125},{"m":64.4,"dm":0.012,"mu":150},{"m":65.2,"dm":0.018,"mu":130},{"m":66.2,"dm":0.010,"mu":160},{"m":67.2,"dm":0.016,"mu":140},{"m":68.4,"dm":0.008,"mu":155},
{"m":55.4,"dm":0.015,"mu":85},{"m":56.0,"dm":0.010,"mu":100},{"m":56.6,"dm":0.018,"mu":75},{"m":57.2,"dm":0.006,"mu":110},{"m":57.8,"dm":0.013,"mu":90},{"m":58.4,"dm":0.003,"mu":120},{"m":59.0,"dm":0.011,"mu":95},{"m":59.6,"dm":0.001,"mu":130},{"m":60.2,"dm":0.008,"mu":105},{"m":61.0,"dm":-0.003,"mu":135},{"m":61.8,"dm":0.005,"mu":115},{"m":62.8,"dm":-0.002,"mu":140},{"m":55.2,"dm":0.004,"mu":100},{"m":55.9,"dm":-0.006,"mu":120},{"m":56.7,"dm":0.000,"mu":95},{"m":57.5,"dm":-0.010,"mu":135},
{"m":55.3,"dm":0.055,"mu":85},{"m":56.0,"dm":0.058,"mu":65},{"m":57.2,"dm":0.052,"mu":80},{"m":58.4,"dm":0.048,"mu":75},{"m":59.6,"dm":0.050,"mu":90},{"m":60.6,"dm":0.046,"mu":100},{"m":54.9,"dm":0.037,"mu":70},{"m":55.5,"dm":0.050,"mu":60},{"m":56.9,"dm":0.042,"mu":65},{"m":58.1,"dm":0.031,"mu":60},{"m":59.5,"dm":0.029,"mu":70},{"m":60.9,"dm":0.028,"mu":80},
{"m":55.5,"dm":0.035,"mu":95},{"m":56.3,"dm":0.028,"mu":88},{"m":57.1,"dm":0.035,"mu":80},{"m":57.9,"dm":0.024,"mu":95},{"m":58.7,"dm":0.033,"mu":85},{"m":59.3,"dm":0.024,"mu":100},{"m":60.1,"dm":0.031,"mu":90},{"m":60.9,"dm":0.021,"mu":110},{"m":61.5,"dm":0.029,"mu":100},{"m":62.5,"dm":0.026,"mu":115},{"m":63.3,"dm":0.024,"mu":130},{"m":63.9,"dm":0.017,"mu":120},{"m":64.9,"dm":0.022,"mu":135},{"m":56.2,"dm":0.021,"mu":92},{"m":57.4,"dm":0.015,"mu":100},{"m":58.9,"dm":0.016,"mu":110},{"m":60.4,"dm":0.012,"mu":115},{"m":62.2,"dm":0.010,"mu":125},{"m":56.4,"dm":0.005,"mu":105},{"m":58.0,"dm":0.008,"mu":100},{"m":59.8,"dm":0.005,"mu":115},{"m":55.7,"dm":0.046,"mu":70},{"m":57.8,"dm":0.042,"mu":80},{"m":59.0,"dm":0.046,"mu":85},{"m":61.7,"dm":0.044,"mu":105},{"m":62.6,"dm":0.048,"mu":125},
{"m":71.8,"dm":0.0127,"mu":210},{"m":73.5,"dm":0.009,"mu":170},{"m":75.5,"dm":0.005,"mu":150},{"m":78.0,"dm":-0.0007,"mu":145},{"m":70.0,"dm":0.004,"mu":190},{"m":66.5,"dm":0.001,"mu":160},{"m":64.0,"dm":-0.004,"mu":155},{"m":69.0,"dm":-0.006,"mu":140},{"m":76.5,"dm":0.010,"mu":200},{"m":80.5,"dm":0.006,"mu":160},{"m":82.5,"dm":0.013,"mu":190},{"m":84.0,"dm":0.010,"mu":205},
{"m":59.5,"dm":0.200,"mu":370},{"m":59.4,"dm":0.196,"mu":355},{"m":59.4,"dm":0.190,"mu":330},{"m":59.6,"dm":0.189,"mu":390},
{"m":59.3,"dm":0.186,"mu":320},{"m":59.1,"dm":0.182,"mu":250},{"m":59.4,"dm":0.180,"mu":270},{"m":58.9,"dm":0.177,"mu":240},{"m":59.2,"dm":0.175,"mu":360},{"m":58.8,"dm":0.172,"mu":300},{"m":59.3,"dm":0.171,"mu":210},{"m":58.6,"dm":0.168,"mu":200},{"m":59.1,"dm":0.166,"mu":380},
{"m":58.4,"dm":0.164,"mu":230},{"m":59.5,"dm":0.163,"mu":350},{"m":58.9,"dm":0.161,"mu":180},{"m":58.2,"dm":0.159,"mu":290},{"m":59.7,"dm":0.157,"mu":395},{"m":58.6,"dm":0.156,"mu":160},{"m":59.2,"dm":0.154,"mu":260},{"m":57.9,"dm":0.152,"mu":200},{"m":59.9,"dm":0.150,"mu":340},{"m":58.4,"dm":0.150,"mu":170},
{"m":57.7,"dm":0.148,"mu":150},{"m":59.0,"dm":0.147,"mu":250},{"m":60.2,"dm":0.146,"mu":280},{"m":58.2,"dm":0.145,"mu":230},{"m":57.3,"dm":0.143,"mu":310},{"m":59.5,"dm":0.142,"mu":180},{"m":56.8,"dm":0.140,"mu":160},{"m":58.7,"dm":0.139,"mu":140},{"m":60.4,"dm":0.139,"mu":385},{"m":57.8,"dm":0.137,"mu":270},{"m":59.2,"dm":0.135,"mu":200},{"m":56.9,"dm":0.134,"mu":120},{"m":58.3,"dm":0.133,"mu":160},{"m":60.3,"dm":0.131,"mu":300},{"m":57.4,"dm":0.130,"mu":240},
{"m":59.8,"dm":0.129,"mu":170},{"m":56.5,"dm":0.128,"mu":140},{"m":58.8,"dm":0.127,"mu":150},{"m":57.9,"dm":0.125,"mu":350},{"m":60.5,"dm":0.124,"mu":260},{"m":56.3,"dm":0.122,"mu":250},{"m":59.3,"dm":0.121,"mu":140},{"m":57.2,"dm":0.120,"mu":165},{"m":58.4,"dm":0.118,"mu":200},{"m":60.6,"dm":0.117,"mu":330},{"m":56.0,"dm":0.116,"mu":110},{"m":59.6,"dm":0.115,"mu":155},{"m":57.6,"dm":0.114,"mu":280},{"m":58.9,"dm":0.112,"mu":130},{"m":60.8,"dm":0.111,"mu":380},{"m":56.6,"dm":0.110,"mu":150},
{"m":55.8,"dm":0.108,"mu":100},{"m":58.1,"dm":0.108,"mu":140},{"m":60.1,"dm":0.107,"mu":190},{"m":57.0,"dm":0.105,"mu":260},{"m":59.2,"dm":0.104,"mu":150},{"m":60.9,"dm":0.103,"mu":300},{"m":55.5,"dm":0.102,"mu":90},{"m":58.5,"dm":0.101,"mu":120},{"m":61.0,"dm":0.099,"mu":360},{"m":56.4,"dm":0.099,"mu":130},{"m":57.7,"dm":0.097,"mu":110},{"m":59.8,"dm":0.097,"mu":170},{"m":55.3,"dm":0.095,"mu":85},{"m":60.6,"dm":0.094,"mu":230},{"m":56.9,"dm":0.093,"mu":320},{"m":58.8,"dm":0.092,"mu":125},{"m":61.2,"dm":0.091,"mu":340},{"m":55.6,"dm":0.090,"mu":100},
{"m":57.5,"dm":0.089,"mu":140},{"m":60.0,"dm":0.088,"mu":160},{"m":55.1,"dm":0.087,"mu":80},{"m":61.4,"dm":0.086,"mu":310},{"m":56.2,"dm":0.085,"mu":290},{"m":58.6,"dm":0.085,"mu":115},{"m":59.6,"dm":0.083,"mu":145},{"m":55.4,"dm":0.082,"mu":95},{"m":61.6,"dm":0.081,"mu":380},{"m":57.3,"dm":0.081,"mu":105},{"m":60.8,"dm":0.080,"mu":200},{"m":56.0,"dm":0.078,"mu":110},{"m":58.2,"dm":0.078,"mu":90},{"m":61.9,"dm":0.077,"mu":330},{"m":54.9,"dm":0.076,"mu":85},{"m":59.4,"dm":0.076,"mu":120},{"m":57.0,"dm":0.074,"mu":350},{"m":60.9,"dm":0.073,"mu":175},{"m":62.2,"dm":0.073,"mu":290},{"m":55.7,"dm":0.072,"mu":100},{"m":58.0,"dm":0.071,"mu":80},{"m":61.5,"dm":0.071,"mu":230},{"m":62.5,"dm":0.069,"mu":360},{"m":56.5,"dm":0.069,"mu":260},
{"m":54.8,"dm":0.067,"mu":90},{"m":57.8,"dm":0.066,"mu":100},{"m":59.5,"dm":0.066,"mu":130},{"m":61.8,"dm":0.066,"mu":160},{"m":63.0,"dm":0.064,"mu":320},{"m":55.5,"dm":0.063,"mu":110},{"m":60.4,"dm":0.062,"mu":150},{"m":62.5,"dm":0.062,"mu":210},{"m":63.6,"dm":0.060,"mu":370},{"m":56.6,"dm":0.060,"mu":95},{"m":58.8,"dm":0.060,"mu":75},{"m":54.7,"dm":0.058,"mu":270},{"m":61.3,"dm":0.058,"mu":120},{"m":63.2,"dm":0.057,"mu":190},{"m":64.2,"dm":0.056,"mu":300},{"m":57.4,"dm":0.056,"mu":85},{"m":59.9,"dm":0.055,"mu":100},{"m":62.2,"dm":0.054,"mu":145},{"m":64.8,"dm":0.052,"mu":350},{"m":55.2,"dm":0.053,"mu":80},{"m":63.8,"dm":0.051,"mu":220},{"m":58.2,"dm":0.052,"mu":70},{"m":65.3,"dm":0.049,"mu":290},{"m":60.8,"dm":0.050,"mu":110},{"m":56.2,"dm":0.050,"mu":90},
{"m":62.6,"dm":0.0705,"mu":375},{"m":62.3,"dm":0.073,"mu":320},{"m":62.7,"dm":0.075,"mu":270},{"m":62.4,"dm":0.077,"mu":210},{"m":62.6,"dm":0.079,"mu":160},
{"m":64.1,"dm":0.0575,"mu":390},{"m":63.9,"dm":0.060,"mu":330},{"m":64.2,"dm":0.062,"mu":280},{"m":63.8,"dm":0.064,"mu":220},{"m":64.0,"dm":0.066,"mu":165},{"m":64.3,"dm":0.0675,"mu":140},
{"m":65.6,"dm":0.0495,"mu":360},{"m":65.3,"dm":0.0515,"mu":315},{"m":65.7,"dm":0.0535,"mu":265},{"m":65.4,"dm":0.055,"mu":205},{"m":65.6,"dm":0.057,"mu":160},
{"m":67.1,"dm":0.0435,"mu":385},{"m":66.8,"dm":0.045,"mu":325},{"m":67.2,"dm":0.047,"mu":275},{"m":66.9,"dm":0.0485,"mu":215},{"m":67.1,"dm":0.050,"mu":150},
{"m":68.6,"dm":0.0385,"mu":370},{"m":68.3,"dm":0.040,"mu":330},{"m":68.7,"dm":0.0415,"mu":260},{"m":68.4,"dm":0.043,"mu":200},{"m":68.6,"dm":0.0445,"mu":155},
{"m":70.1,"dm":0.0345,"mu":395},{"m":69.8,"dm":0.036,"mu":320},{"m":70.2,"dm":0.0375,"mu":270},{"m":69.9,"dm":0.039,"mu":210},{"m":70.1,"dm":0.040,"mu":160},{"m":70.3,"dm":0.041,"mu":135},
{"m":71.6,"dm":0.0315,"mu":365},{"m":71.3,"dm":0.033,"mu":315},{"m":71.7,"dm":0.0345,"mu":280},{"m":71.4,"dm":0.036,"mu":220},{"m":71.6,"dm":0.037,"mu":155},
{"m":73.1,"dm":0.0285,"mu":385},{"m":72.8,"dm":0.030,"mu":330},{"m":73.2,"dm":0.0315,"mu":265},{"m":72.9,"dm":0.033,"mu":205},{"m":73.1,"dm":0.0345,"mu":150},
{"m":74.6,"dm":0.026,"mu":375},{"m":74.3,"dm":0.0275,"mu":320},{"m":74.7,"dm":0.029,"mu":275},{"m":74.4,"dm":0.0305,"mu":215},{"m":74.6,"dm":0.032,"mu":160},{"m":74.8,"dm":0.033,"mu":130},
{"m":76.1,"dm":0.0235,"mu":395},{"m":75.8,"dm":0.025,"mu":335},{"m":76.2,"dm":0.027,"mu":265},{"m":75.9,"dm":0.0285,"mu":200},{"m":76.1,"dm":0.030,"mu":150},
{"m":77.6,"dm":0.022,"mu":370},{"m":77.3,"dm":0.0235,"mu":310},{"m":77.7,"dm":0.025,"mu":280},{"m":77.4,"dm":0.027,"mu":210},{"m":77.6,"dm":0.0285,"mu":165},
{"m":79.1,"dm":0.0205,"mu":385},{"m":78.8,"dm":0.022,"mu":325},{"m":79.2,"dm":0.0235,"mu":270},{"m":78.9,"dm":0.025,"mu":220},{"m":79.1,"dm":0.027,"mu":155},{"m":79.3,"dm":0.028,"mu":125},
{"m":80.6,"dm":0.019,"mu":360},{"m":80.3,"dm":0.0205,"mu":330},{"m":80.7,"dm":0.022,"mu":260},{"m":80.4,"dm":0.0235,"mu":205},{"m":80.6,"dm":0.0255,"mu":160},
{"m":82.1,"dm":0.018,"mu":395},{"m":81.8,"dm":0.0195,"mu":315},{"m":82.2,"dm":0.021,"mu":285},{"m":81.9,"dm":0.0225,"mu":215},{"m":82.1,"dm":0.024,"mu":150},{"m":82.3,"dm":0.0255,"mu":120},
{"m":83.6,"dm":0.017,"mu":375},{"m":83.3,"dm":0.0185,"mu":330},{"m":83.7,"dm":0.020,"mu":270},{"m":83.4,"dm":0.0215,"mu":200},{"m":83.6,"dm":0.023,"mu":160},
{"m":85.1,"dm":0.0162,"mu":385},{"m":84.8,"dm":0.0178,"mu":320},{"m":85.2,"dm":0.019,"mu":265},{"m":84.9,"dm":0.0205,"mu":210},{"m":85.1,"dm":0.022,"mu":155},{"m":85.3,"dm":0.0238,"mu":130},
{"m":86.6,"dm":0.0155,"mu":370},{"m":86.3,"dm":0.017,"mu":335},{"m":86.7,"dm":0.0185,"mu":275},{"m":86.4,"dm":0.020,"mu":220},{"m":86.6,"dm":0.0215,"mu":160},
{"m":88.1,"dm":0.0148,"mu":395},{"m":87.8,"dm":0.016,"mu":325},{"m":88.2,"dm":0.0175,"mu":265},{"m":87.9,"dm":0.019,"mu":205},{"m":88.1,"dm":0.0205,"mu":150},{"m":88.3,"dm":0.022,"mu":125},
{"m":89.6,"dm":0.0142,"mu":380},{"m":89.3,"dm":0.0155,"mu":315},{"m":89.7,"dm":0.017,"mu":280},{"m":89.4,"dm":0.0185,"mu":215},{"m":89.6,"dm":0.020,"mu":160},
{"m":91.1,"dm":0.0137,"mu":390},{"m":90.8,"dm":0.015,"mu":325},{"m":91.2,"dm":0.0165,"mu":270},{"m":90.9,"dm":0.018,"mu":210},{"m":91.1,"dm":0.0198,"mu":155},
{"m":93.1,"dm":0.0132,"mu":370},{"m":92.8,"dm":0.0145,"mu":330},{"m":93.2,"dm":0.016,"mu":265},{"m":92.9,"dm":0.0175,"mu":205},{"m":93.1,"dm":0.0192,"mu":150},{"m":93.3,"dm":0.0207,"mu":125},
{"m":95.1,"dm":0.0124,"mu":395},{"m":94.8,"dm":0.0138,"mu":320},{"m":95.2,"dm":0.0153,"mu":275},{"m":94.9,"dm":0.0168,"mu":215},{"m":95.1,"dm":0.0185,"mu":160},
{"m":97.1,"dm":0.012,"mu":380},{"m":96.8,"dm":0.0133,"mu":335},{"m":97.2,"dm":0.0148,"mu":265},{"m":96.9,"dm":0.0162,"mu":205},{"m":97.1,"dm":0.0178,"mu":155},
{"m":99.1,"dm":0.0114,"mu":365},{"m":98.8,"dm":0.0127,"mu":320},{"m":99.2,"dm":0.0142,"mu":280},{"m":98.9,"dm":0.0157,"mu":220},{"m":99.1,"dm":0.0173,"mu":160},{"m":99.3,"dm":0.0186,"mu":135},
{"m":101.1,"dm":0.011,"mu":390},{"m":100.8,"dm":0.0122,"mu":330},{"m":101.2,"dm":0.0137,"mu":270},{"m":100.9,"dm":0.0152,"mu":210},{"m":101.1,"dm":0.0168,"mu":155},
{"m":103.1,"dm":0.0107,"mu":375},{"m":102.8,"dm":0.0119,"mu":315},{"m":103.2,"dm":0.0133,"mu":265},{"m":102.9,"dm":0.0148,"mu":215},{"m":103.1,"dm":0.0163,"mu":150},
{"m":105.1,"dm":0.0105,"mu":395},{"m":104.8,"dm":0.0117,"mu":335},{"m":105.2,"dm":0.013,"mu":275},{"m":104.9,"dm":0.0144,"mu":205},{"m":105.1,"dm":0.0158,"mu":160},
{"m":107.1,"dm":0.0102,"mu":370},{"m":106.8,"dm":0.0114,"mu":320},{"m":107.2,"dm":0.0127,"mu":265},{"m":106.9,"dm":0.014,"mu":210},{"m":107.1,"dm":0.0155,"mu":155},
{"m":109.1,"dm":0.010,"mu":385},{"m":108.8,"dm":0.0111,"mu":330},{"m":109.2,"dm":0.0124,"mu":280},{"m":108.9,"dm":0.0137,"mu":215},{"m":109.1,"dm":0.015,"mu":160},
{"m":111.1,"dm":0.0097,"mu":395},{"m":110.8,"dm":0.0108,"mu":325},{"m":111.2,"dm":0.012,"mu":270},{"m":110.9,"dm":0.0133,"mu":205},{"m":111.1,"dm":0.0146,"mu":155},
{"m":113.1,"dm":0.0095,"mu":375},{"m":112.8,"dm":0.0106,"mu":335},{"m":113.2,"dm":0.0118,"mu":265},{"m":112.9,"dm":0.013,"mu":215},{"m":113.1,"dm":0.0142,"mu":160},
{"m":115.1,"dm":0.0093,"mu":390},{"m":114.8,"dm":0.0103,"mu":320},{"m":115.2,"dm":0.0115,"mu":275},{"m":114.9,"dm":0.0126,"mu":210},{"m":115.1,"dm":0.0138,"mu":165},
{"m":117.1,"dm":0.0091,"mu":370},{"m":116.8,"dm":0.0101,"mu":330},{"m":117.2,"dm":0.0112,"mu":265},{"m":116.9,"dm":0.0123,"mu":220},{"m":117.1,"dm":0.0134,"mu":170},
{"m":119.1,"dm":0.0088,"mu":395},{"m":118.8,"dm":0.0098,"mu":325},{"m":119.2,"dm":0.0108,"mu":280},{"m":118.9,"dm":0.0119,"mu":215},{"m":119.1,"dm":0.013,"mu":175},
{"m":121.1,"dm":0.0086,"mu":380},{"m":120.8,"dm":0.0095,"mu":335},{"m":121.2,"dm":0.0105,"mu":270},{"m":120.9,"dm":0.0115,"mu":225},{"m":121.1,"dm":0.0126,"mu":180},
{"m":123.1,"dm":0.0083,"mu":395},{"m":122.8,"dm":0.0092,"mu":320},{"m":123.2,"dm":0.0101,"mu":275},{"m":122.9,"dm":0.0111,"mu":230},{"m":123.1,"dm":0.0121,"mu":185},
{"m":125.1,"dm":0.0081,"mu":375},{"m":124.8,"dm":0.009,"mu":330},{"m":125.2,"dm":0.0099,"mu":280},{"m":124.9,"dm":0.0108,"mu":235},{"m":125.1,"dm":0.0117,"mu":195},
{"m":127.1,"dm":0.0079,"mu":400},{"m":126.8,"dm":0.0087,"mu":340},{"m":127.2,"dm":0.0096,"mu":290},{"m":126.9,"dm":0.0105,"mu":240},{"m":127.1,"dm":0.0113,"mu":205},
{"m":129.1,"dm":0.0078,"mu":385},{"m":128.8,"dm":0.0085,"mu":335},{"m":129.2,"dm":0.0093,"mu":295},{"m":128.9,"dm":0.0101,"mu":250},{"m":129.1,"dm":0.0109,"mu":215},
{"m":131.1,"dm":0.0077,"mu":400},{"m":130.8,"dm":0.0083,"mu":350},{"m":131.2,"dm":0.009,"mu":300},{"m":130.9,"dm":0.0098,"mu":260},
{"m":133.1,"dm":0.0076,"mu":395},{"m":132.8,"dm":0.0082,"mu":340},{"m":133.2,"dm":0.0089,"mu":305},{"m":132.9,"dm":0.0096,"mu":265},
{"m":135.1,"dm":0.0075,"mu":400},{"m":134.8,"dm":0.008,"mu":360},{"m":135.2,"dm":0.0086,"mu":310},{"m":134.9,"dm":0.0092,"mu":275},
{"m":137.1,"dm":0.0074,"mu":395},{"m":136.8,"dm":0.0078,"mu":345},{"m":137.2,"dm":0.0084,"mu":315},
{"m":139.1,"dm":0.0073,"mu":400},{"m":138.8,"dm":0.0077,"mu":360},{"m":139.2,"dm":0.0082,"mu":320},
{"m":141.1,"dm":0.0072,"mu":395},{"m":140.8,"dm":0.0076,"mu":355},{"m":142.5,"dm":0.0072,"mu":385},{"m":144.6,"dm":0.007,"mu":370},
{"m":100.0,"dm":0.0108,"mu":395},{"m":104.0,"dm":0.0103,"mu":400},{"m":110.0,"dm":0.0097,"mu":380},{"m":114.0,"dm":0.0092,"mu":395},{"m":118.0,"dm":0.0088,"mu":400},{"m":122.0,"dm":0.0083,"mu":385},{"m":126.0,"dm":0.0079,"mu":395},{"m":130.0,"dm":0.0076,"mu":400},{"m":134.0,"dm":0.0074,"mu":390},{"m":138.0,"dm":0.0073,"mu":400},
{"m":97.5,"dm":0.0085,"mu":300},{"m":104.5,"dm":0.0075,"mu":270},{"m":108.6,"dm":0.0027,"mu":230},{"m":112.0,"dm":0.0062,"mu":280},{"m":117.5,"dm":0.0068,"mu":260},{"m":122.5,"dm":0.0065,"mu":320},{"m":93.0,"dm":0.0095,"mu":280},{"m":86.0,"dm":0.0084,"mu":230},{"m":89.5,"dm":0.0078,"mu":270},{"m":80.0,"dm":0.012,"mu":300},{"m":83.0,"dm":0.011,"mu":340},{"m":101.5,"dm":0.0065,"mu":230},{"m":115.5,"dm":0.0072,"mu":300}
]},
"resolve": {"axis": {"x": "independent", "y": "independent"}},
"layer": [
{
"mark": {"type": "circle", "size": 20, "opacity": 1},
"encoding": {
"x": {"field": "m", "type": "quantitative", "scale": {"domain": [-7.2, 151.9], "nice": false, "zero": false},
"axis": {"title": "m_χ± [GeV]", "values": [0, 20, 40, 60, 80, 100, 120, 140], "format": "d", "tickSize": -4.5, "labelPadding": 8, "titlePadding": 9, "orient": "bottom"}},
"y": {"field": "dm", "type": "quantitative", "scale": {"domain": [-0.1314, 0.215], "nice": false, "zero": false},
"axis": {"title": "Δm_W [GeV]", "values": [-0.1, -0.05, 0, 0.05, 0.1, 0.15, 0.2], "format": ".2f", "tickSize": -4.5, "labelPadding": 8, "titlePadding": 12, "orient": "left"}},
"color": {"field": "mu", "type": "quantitative",
"scale": {"domain": [17.2, 65.7, 114.2, 162.7, 211.2, 259.7, 308.2, 356.7, 405.2], "range": ["#000080", "#0000FF", "#0080FF", "#15FFE2", "#7BFF7B", "#E2FF15", "#FF9700", "#FF2200", "#800000"], "interpolate": "rgb"},
"legend": {"title": "μ [GeV]", "values": [50, 100, 150, 200, 250, 300, 350, 400], "gradientLength": 522, "gradientThickness": 27, "offset": 35, "padding": 0, "labelFontSize": 12.5, "labelColor": "black", "labelFont": "DejaVu Sans", "labelOffset": 9, "titleOrient": "right", "titleAnchor": "middle", "titleFontSize": 20, "titleFontWeight": "normal", "titleColor": "black", "titleFont": "DejaVu Sans", "titlePadding": 10, "gradientStrokeColor": "black", "gradientStrokeWidth": 1, "encoding": {"title": {"angle": {"value": -90}, "baseline": {"value": "top"}}}}}
}
},
{
"mark": {"type": "circle", "size": 1, "opacity": 0},
"encoding": {
"x": {"field": "m", "type": "quantitative", "axis": {"title": null, "labels": false, "domain": false, "grid": false, "tickSize": -2.5, "orient": "bottom", "values": [-5, 5, 10, 15, 25, 30, 35, 45, 50, 55, 65, 70, 75, 85, 90, 95, 105, 110, 115, 125, 130, 135, 145, 150]}},
"y": {"field": "dm", "type": "quantitative", "axis": {"title": null, "labels": false, "domain": false, "grid": false, "tickSize": -2.5, "orient": "left", "values": [-0.13, -0.12, -0.11, -0.09, -0.08, -0.07, -0.06, -0.04, -0.03, -0.02, -0.01, 0.01, 0.02, 0.03, 0.04, 0.06, 0.07, 0.08, 0.09, 0.11, 0.12, 0.13, 0.14, 0.16, 0.17, 0.18, 0.19, 0.21]}}
}
}
],
"config": {
"font": "DejaVu Sans",
"view": {"stroke": "black", "strokeWidth": 1},
"axis": {"domainColor": "black", "domainWidth": 1, "tickColor": "black", "tickWidth": 1, "labelColor": "black", "titleColor": "black", "labelFont": "DejaVu Sans", "labelFontSize": 12.5, "titleFont": "DejaVu Sans", "titleFontSize": 20, "titleFontWeight": "normal", "grid": false}
}
}
